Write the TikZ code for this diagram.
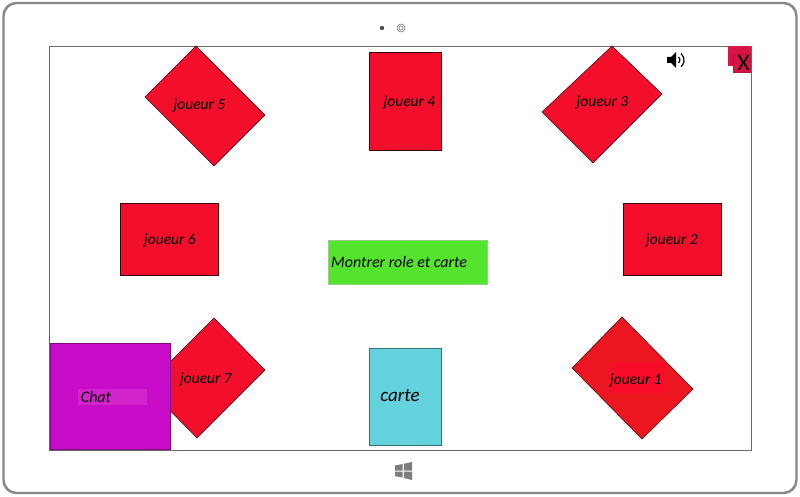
\documentclass[tikz,border=0pt]{standalone}
\usepackage{fontspec}
\setmainfont{Carlito}
\tikzset{
  x=1pt,y=-1pt,
  redcard/.style={fill=cardred,draw=black!75!cardred,line width=0.5pt},
  lab/.style={inner sep=0pt,font=\itshape\fontsize{15.5}{15.5}\selectfont,text=black},
  device/.style={draw=devgray,line width=2.4pt,rounded corners=13pt,fill=white},
  chrome/.style={fill=wingray,draw=none}
}
\definecolor{cardred}{RGB}{243,14,44}
\definecolor{cardredb}{RGB}{235,22,32}
\definecolor{patchred}{RGB}{248,12,42}
\definecolor{devgray}{RGB}{135,135,135}
\definecolor{wingray}{RGB}{125,125,125}
\definecolor{screenline}{RGB}{105,105,105}
\definecolor{greenbtn}{RGB}{85,228,45}
\definecolor{cardblue}{RGB}{100,210,220}
\definecolor{chatpurple}{RGB}{200,12,200}
\definecolor{chatpatch}{RGB}{210,35,205}
\definecolor{closeback}{RGB}{215,20,70}
\begin{document}
\begin{tikzpicture}
\useasboundingbox (0,0) rectangle (800,497);
% device
\draw[device] (3.5,3) rectangle (796.5,493);
\draw[screenline,line width=0.9pt] (49.5,46) rectangle (751,450);
% camera
\fill[black!70] (382,28) circle (2.2);
\draw[black!55,line width=0.6pt] (401,28) circle (4);
\draw[black!55,line width=0.6pt] (401,28) circle (2);
% windows logo
\fill[chrome] (395,465.5) -- (402.7,464) -- (402.7,470.6) -- (395,470.6) -- cycle;
\fill[chrome] (403.8,463.8) -- (412,462) -- (412,470.6) -- (403.8,470.6) -- cycle;
\fill[chrome] (395,471.6) -- (402.7,471.6) -- (402.7,477.6) -- (395,476.2) -- cycle;
\fill[chrome] (403.8,471.6) -- (412,471.6) -- (412,480) -- (403.8,478) -- cycle;
% red cards
\draw[redcard] (196,46) -- (265,115) -- (214,166) -- (145,97) -- cycle;
\draw[redcard] (612,46) -- (662,94) -- (593,163) -- (542,112) -- cycle;
\draw[redcard] (214,318) -- (265,370) -- (197,438) -- (146,386) -- cycle;
\draw[redcard,fill=cardredb] (622,317) -- (693,389) -- (642,439) -- (572,368) -- cycle;
\fill[patchred] (610,363) rectangle (666,393);
\draw[redcard] (369,52) rectangle (441,150);
\draw[redcard] (120,203) rectangle (218,275);
\draw[redcard] (623,203) rectangle (721,275);
% other boxes
\draw[fill=greenbtn,draw=black!25!white!60!greenbtn,line width=0.7pt] (328,240) rectangle (487,284);
\draw[fill=cardblue,draw=black!45!cardblue,line width=0.7pt] (369,348) rectangle (441,445.5);
\draw[fill=chatpurple,draw=black!35!chatpurple,line width=0.9pt] (50,343.5) rectangle (170,449);
\fill[chatpatch] (78,389) rectangle (147,405);
% close button
\fill[closeback] (728,46) rectangle (750.5,66);
\fill[closeback,draw=black!15!closeback] (733,54) rectangle (750.5,72);
\node[lab,font=\fontsize{23}{23}\selectfont] (xclose) at (743.5,63.5) {X};
% speaker icon
\fill[black] (667,57) -- (671,57) -- (676,52) -- (676,68) -- (671,63) -- (667,63) -- cycle;
\draw[black,line width=1.2pt] (678.5,57) arc (-50:50:3.9);
\draw[black,line width=1.2pt] (681,53.5) arc (-50:50:8.6);
% labels
\node[lab] (j5) at (199.5,105) {joueur 5};
\node[lab] (j4) at (409.5,102.5) {joueur 4};
\node[lab] (j3) at (602.5,102.5) {joueur 3};
\node[lab] (j6) at (170,240.5) {joueur 6};
\node[lab] (j2) at (672,240.5) {joueur 2};
\node[lab] (j7) at (206,379.5) {joueur 7};
\node[lab] (j1) at (636,380.5) {joueur 1};
\node[lab,anchor=west,font=\itshape\fontsize{16}{16}\selectfont] (show) at (331,262) {Montrer role et carte};
\node[lab,font=\itshape\fontsize{19}{19}\selectfont] (carte) at (400,395.5) {carte};
\node[lab,font=\itshape\fontsize{16}{16}\selectfont] (chat) at (96,397) {Chat};
\end{tikzpicture}
\end{document}
